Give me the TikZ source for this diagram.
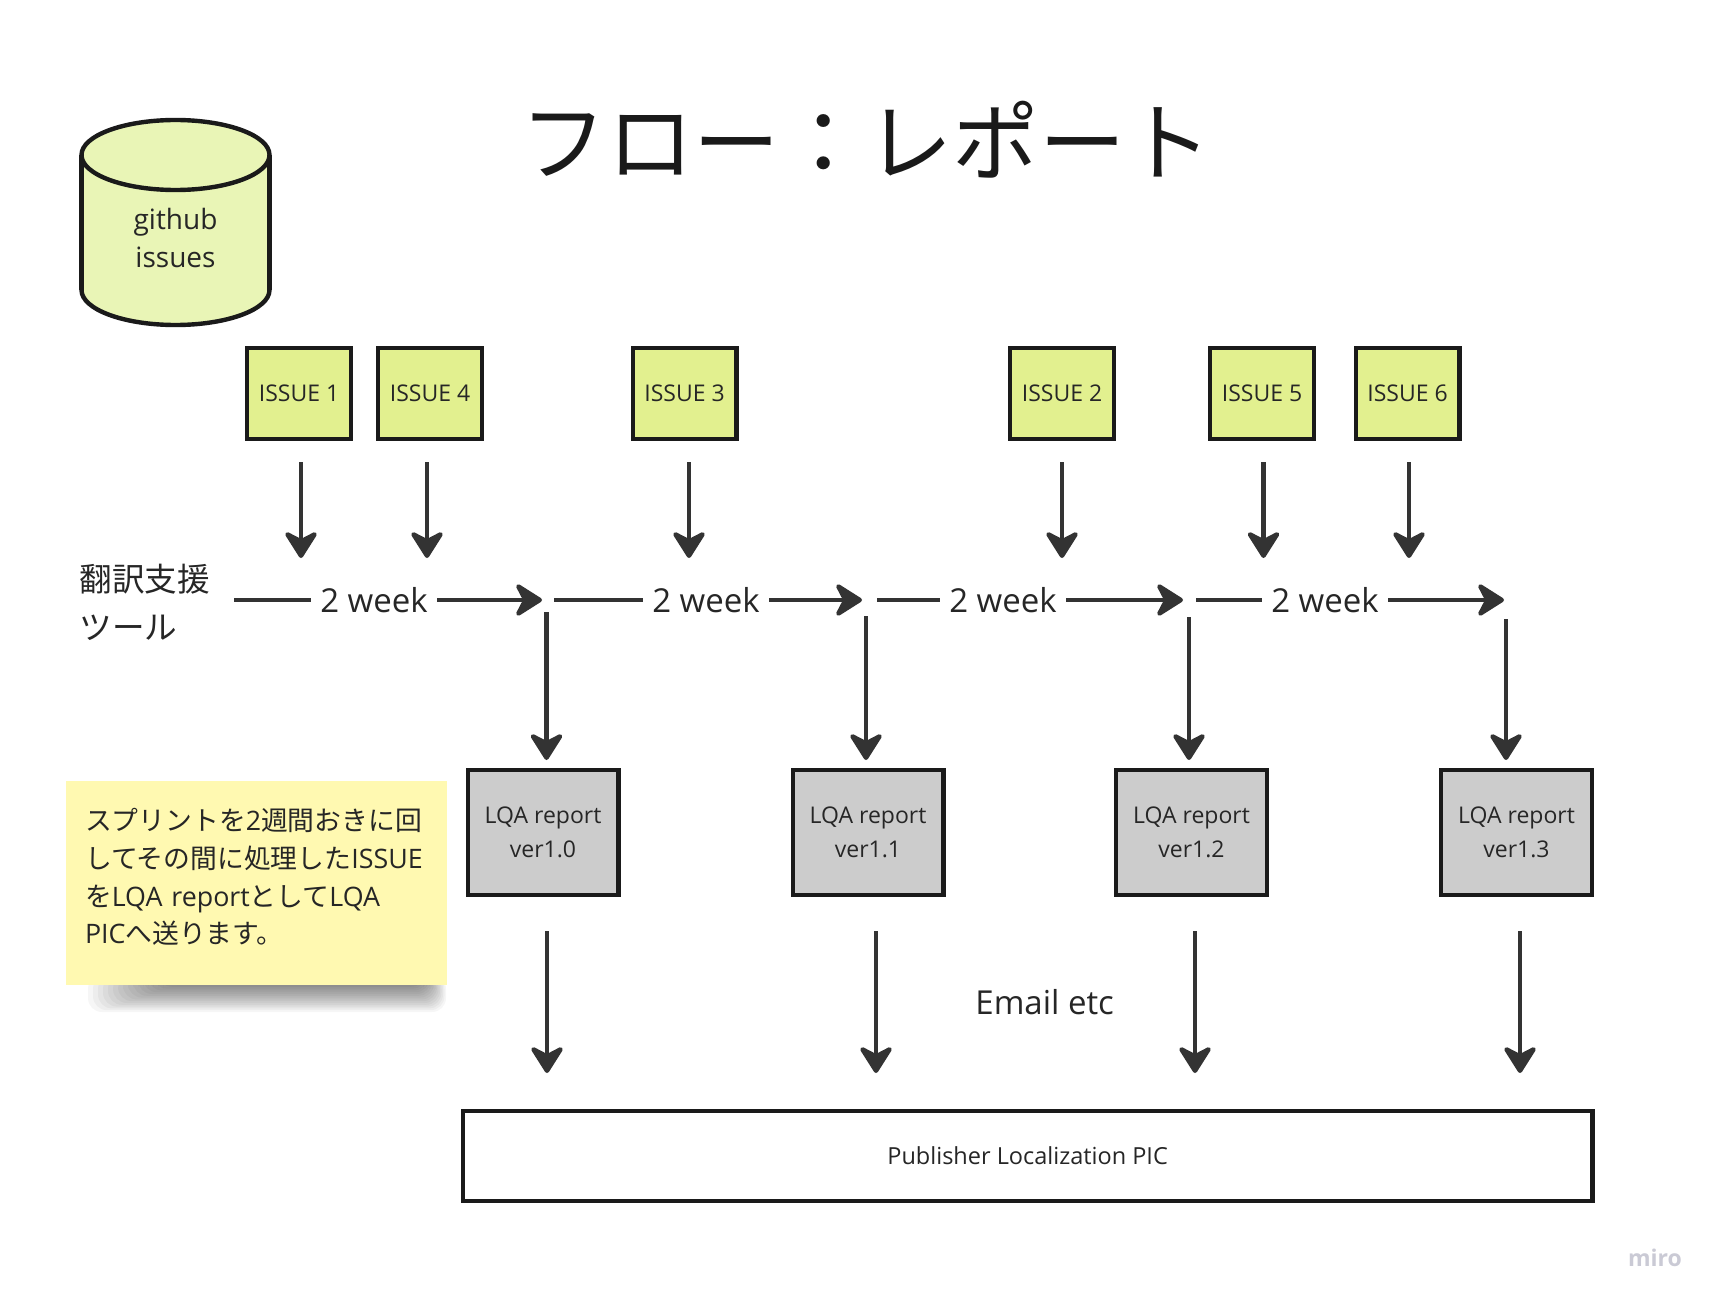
\documentclass[tikz,border=0pt]{standalone}
\usepackage{fontspec}
\setmainfont{Open Sans}
\newfontfamily\jp{Noto Sans CJK JP}
\usetikzlibrary{arrows.meta}
\definecolor{ink}{HTML}{1A1A1A}
\definecolor{txt}{HTML}{262626}
\definecolor{arrowc}{HTML}{333333}
\definecolor{issuefill}{HTML}{E2F08F}
\definecolor{dbfill}{HTML}{E9F5B6}
\definecolor{lqafill}{HTML}{CCCCCC}
\definecolor{notefill}{HTML}{FFF9B1}
\definecolor{mirogray}{HTML}{CACAD5}
\begin{document}
\begin{tikzpicture}[x=0.5pt,y=-0.5pt,
  issue/.style={draw=ink, line width=2.2pt, fill=issuefill, minimum width=51.8pt, minimum height=45.3pt, inner sep=0pt, text=txt, font=\fontsize{11.5pt}{14pt}\selectfont},
  lqa/.style={draw=ink, line width=2.2pt, fill=lqafill, minimum width=75.3pt, minimum height=62.3pt, inner sep=0pt, align=center, text=txt, font=\fontsize{11.5pt}{17pt}\selectfont},
  arr/.style={draw=arrowc, line width=2.2pt, -{Stealth[length=15.5pt,width=19.5pt,inset=5pt,round]}},
  tl/.style={draw=arrowc, line width=2.3pt},
  wk/.style={inner xsep=4.5pt, inner ysep=0pt, text=txt, font=\fontsize{16.5pt}{20pt}\selectfont},
]
\fill[white] (0,0) rectangle (1723,1305);
\useasboundingbox (0,0) rectangle (1723,1305);

% title
\node[font={\jp\fontsize{43.2pt}{50pt}\selectfont}, text=ink] (title) at (866.5,140) {フロー：レポート};

% database cylinder
\coordinate (dbtop) at (175.5,155);
\coordinate (dbbot) at (175.5,290);
\filldraw[fill=dbfill, draw=ink, line width=2.2pt] (dbbot) ellipse[x radius=94, y radius=35];
\fill[dbfill] (81.5,155) rectangle (269.5,290);
\draw[ink, line width=2.2pt] (81.5,155) -- (81.5,290) (269.5,155) -- (269.5,290);
\filldraw[fill=dbfill, draw=ink, line width=2.2pt] (dbtop) ellipse[x radius=94, y radius=35];
\node[align=center, text=txt, font=\fontsize{14pt}{19pt}\selectfont] (gh) at (175.5,238) {github\\issues};

% issues
\node[issue] (i1) at (299,393.5) {ISSUE 1};
\node[issue] (i4) at (430,393.5) {ISSUE 4};
\node[issue] (i3) at (684.5,393.5) {ISSUE 3};
\node[issue] (i2) at (1062,393.5) {ISSUE 2};
\node[issue] (i5) at (1262,393.5) {ISSUE 5};
\node[issue] (i6) at (1407.5,393.5) {ISSUE 6};
\coordinate (rowA) at (0,558);
\coordinate (ai1) at (301,0);
\coordinate (ai4) at (427,0);
\coordinate (ai3) at (689,0);
\coordinate (ai2) at (1062,0);
\coordinate (ai5) at (1263.5,0);
\coordinate (ai6) at (1409,0);
\foreach \n in {i1,i4,i3,i2,i5,i6}
  \draw[arr, shorten <=10.5pt] (\n.south -| a\n) -- (rowA -| a\n);

% tool label
\node[font={\jp\fontsize{16.3pt}{24pt}\selectfont}, align=left, anchor=west, inner sep=0pt, text=txt] (tool) at (79,602.5) {翻訳支援\\ツール};

% timeline
\coordinate (s1) at (234,600); \coordinate (e1) at (542,600);
\coordinate (s2) at (554,600); \coordinate (e2) at (862,600);
\coordinate (s3) at (877,600); \coordinate (e3) at (1183,600);
\coordinate (s4) at (1196,600); \coordinate (e4) at (1504,600);
\node[wk] (w1) at (374,600) {2 week};
\node[wk] (w2) at (706,600) {2 week};
\node[wk] (w3) at (1003,600) {2 week};
\node[wk] (w4) at (1325,600) {2 week};
\foreach \k in {1,2,3,4}{
  \draw[tl] (s\k) -- (w\k);
  \draw[arr] (w\k) -- (e\k);
}

% LQA reports
\node[lqa] (l1) at (543,832.5) {LQA report\\ver1.0};
\node[lqa] (l2) at (868,832.5) {LQA report\\ver1.1};
\node[lqa] (l3) at (1191.5,832.5) {LQA report\\ver1.2};
\node[lqa] (l4) at (1516.5,832.5) {LQA report\\ver1.3};

\coordinate (v1) at (546.5,612);
\coordinate (v2) at (866,616);
\coordinate (v3) at (1189,617);
\coordinate (v4) at (1506,619);
\foreach \k in {1,2,3,4}
  \draw[arr, shorten >=4pt] (v\k) -- (v\k |- l\k.north);

% publisher
\node[draw=ink, line width=2.2pt, fill=white, minimum width=564.9pt, minimum height=44.8pt, inner sep=0pt, text=txt, font=\fontsize{11.75pt}{14pt}\selectfont] (pub) at (1027.6,1156) {Publisher Localization PIC};

\coordinate (x1) at (547,0);
\coordinate (x2) at (876,0);
\coordinate (x3) at (1195,0);
\coordinate (x4) at (1520,0);
\foreach \k in {1,2,3,4}
  \draw[arr, shorten <=17pt, shorten >=18pt] (l\k.south -| x\k) -- (pub.north -| x\k);

\node[text=txt, font=\fontsize{16.5pt}{20pt}\selectfont] (email) at (1044.7,1002) {Email etc};

% sticky note shadow
\foreach \k in {0,...,15}
  \fill[black, opacity=0.035, rounded corners=7pt] (88+\k*5,975) rectangle (446-\k*1.5,1012-\k*1.8);
% sticky note
\node[fill=notefill, minimum width=190.5pt, minimum height=102pt, inner sep=0pt] (note) at (256.5,883) {};
\node[text width=171.5pt, inner sep=0pt, align=left, text=txt, font=\fontsize{13.4pt}{18.9pt}\selectfont] (notetext) at (256.5,877)
  {{\jp スプリントを}2{\jp 週間おきに回}\\{\jp してその間に処理した}ISSUE\\{\jp を}LQA report{\jp として}LQA\\PIC{\jp へ送ります。}};

% watermark
\node[text=mirogray, font=\bfseries\fontsize{11.5pt}{14pt}\selectfont] (miro) at (1655,1258) {miro};
\end{tikzpicture}
\end{document}
